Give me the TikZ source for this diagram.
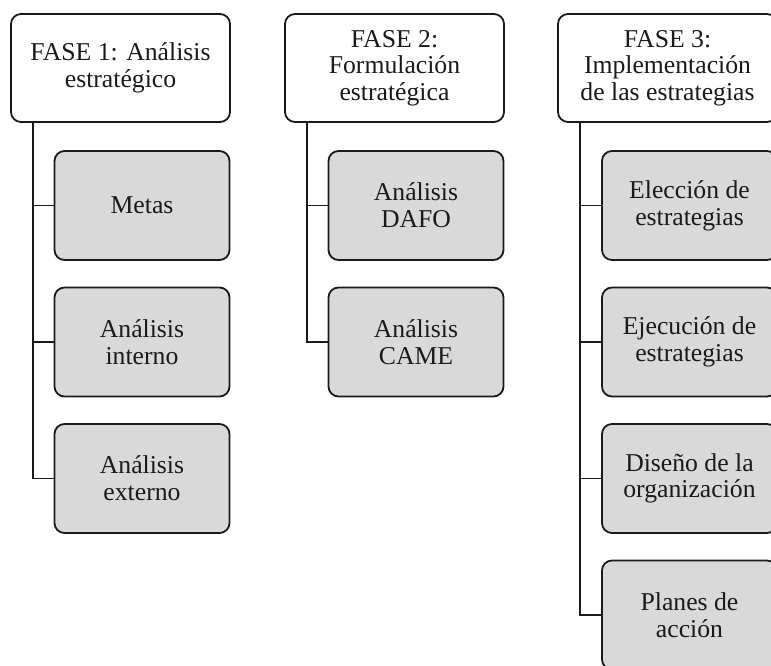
\documentclass[tikz,border=0pt]{standalone}
\usepackage{fontspec}
\setmainfont{Liberation Serif}
\usetikzlibrary{calc}
\definecolor{boxgray}{HTML}{D9D9D9}
\definecolor{ink}{HTML}{1A1A1A}
\begin{document}
\begin{tikzpicture}[x=1pt,y=-1pt,
  phasebox/.style={draw=ink, line width=1.8pt, rounded corners=10pt, fill=white,
    minimum width=219pt, minimum height=108pt, align=center, inner sep=0pt,
    text=ink, font=\fontsize{25.7}{26.7}\selectfont},
  taskbox/.style={phasebox, fill=boxgray, minimum width=175pt, minimum height=109pt},
  link/.style={draw=ink, line width=1.8pt}]
\useasboundingbox (0,0) rectangle (771,666);
\clip (0,0) rectangle (771,666);

% phase headers
\node[phasebox] (h1) at (120.5,68) {FASE 1: Análisis\\estratégico};
\node[phasebox] (h2) at (394.5,68) {FASE 2:\\Formulación\\estratégica};
\node[phasebox] (h3) at (667.5,68) {FASE 3:\\Implementación\\de las estrategias};

% phase 1 tasks
\node[taskbox] (a1) at (142,205.5) {Metas};
\node[taskbox] (a2) at (142,342) {Análisis\\interno};
\node[taskbox] (a3) at (142,478.5) {Análisis\\externo};

% phase 2 tasks
\node[taskbox] (b1) at (416,205.5) {Análisis\\DAFO};
\node[taskbox] (b2) at (416,342) {Análisis\\CAME};

% phase 3 tasks
\node[taskbox] (c1) at (689.5,205.5) {Elección de\\estrategias};
\node[taskbox] (c2) at (689.5,342) {Ejecución de\\estrategias};
\node[taskbox] (c3) at (689.5,478.5) {Diseño de la\\organización};
\node[taskbox] (c4) at (689.5,615) {Planes de\\acción};

% tree connectors
\foreach \h/\t in {h1/a1,h1/a2,h1/a3,h2/b1,h2/b2,h3/c1,h3/c2,h3/c3,h3/c4}
  \draw[link] ($(\h.south west)+(23,0)$) |- (\t.west);
\end{tikzpicture}
\end{document}
